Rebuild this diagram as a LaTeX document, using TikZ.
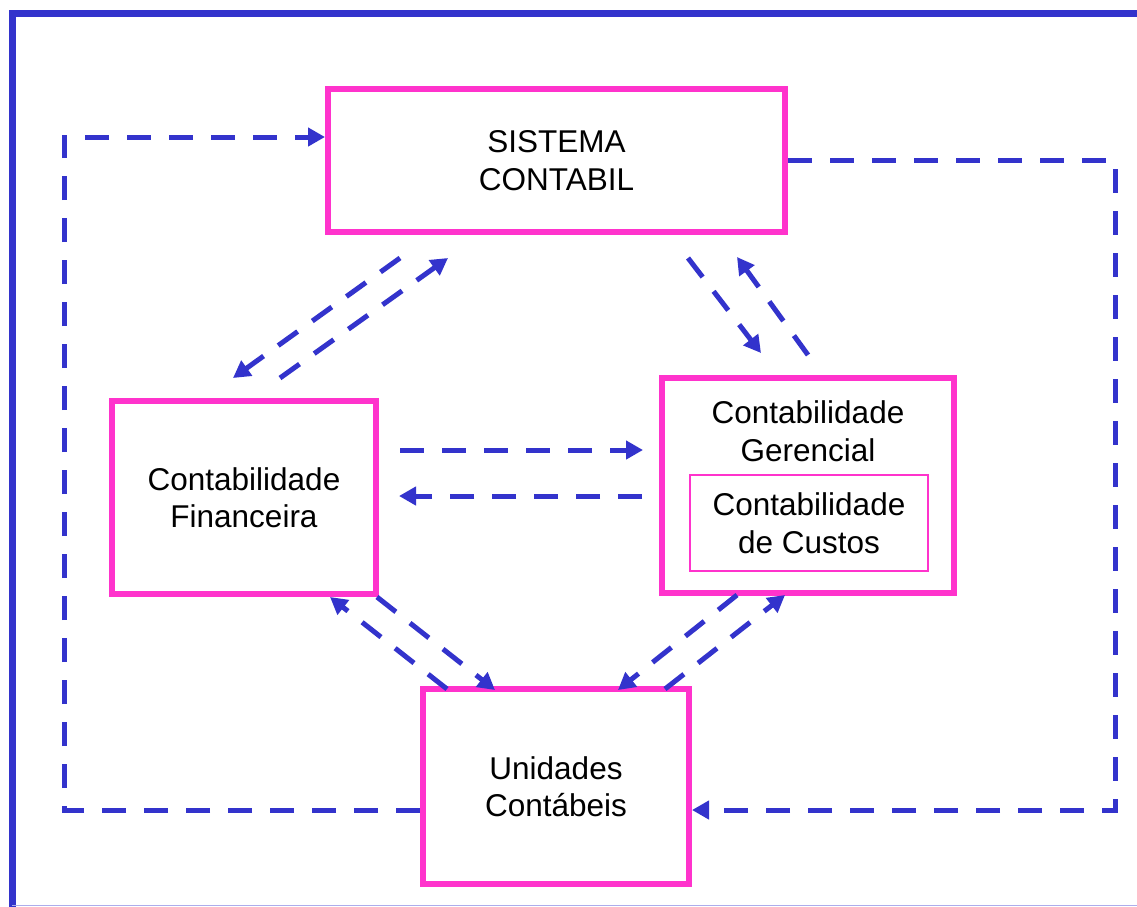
\documentclass[tikz,border=0pt]{standalone}
\usepackage{fontspec}
\setmainfont{Liberation Sans}
\usetikzlibrary{arrows.meta}
\definecolor{fblue}{HTML}{3333CC}
\definecolor{fpink}{HTML}{FF33CC}
\begin{document}
\begin{tikzpicture}[x=1pt,y=-1pt,
  box/.style={draw=fpink,line width=6pt,fill=white,rectangle,inner sep=0pt,align=center,
    font=\fontsize{31.5}{37.5}\selectfont},
  inbox/.style={draw=fpink,line width=1.3pt,rectangle,inner sep=0pt,align=center,
    font=\fontsize{31.5}{37.5}\selectfont},
  flow/.style={draw=fblue,line width=5pt,dash pattern=on 24pt off 18pt},
  arr/.style={flow,-{Triangle[length=17pt,width=18pt]}}]
\useasboundingbox (0,0) rectangle (1137,906);
\fill[white] (0,0) rectangle (1137,906);
\draw[fblue,line width=7pt] (12,920) -- (12,13) -- (1150,13);
\draw[fblue!40,line width=1pt] (12,905) -- (1150,905);

\node[box,minimum width=457pt,minimum height=143pt] (sis) at (556.5,160.5) {SISTEMA\\CONTABIL};
\node[box,minimum width=264pt,minimum height=193pt] (fin) at (244,497.5) {Contabilidade\\Financeira};
\node[box,minimum width=292pt,minimum height=215pt] (ger) at (808,485.5) {};
\node[font=\fontsize{31.5}{37.5}\selectfont,align=center] (gert) at (808,431) {Contabilidade\\Gerencial};
\node[inbox,minimum width=238pt,minimum height=96pt] (cus) at (809,523) {Contabilidade\\de Custos};
\node[box,minimum width=266pt,minimum height=195pt] (uni) at (556,786.5) {Unidades\\Contábeis};

% outer loops
\coordinate (l1) at (64,810);
\coordinate (l2) at (64,137);
\draw[arr] (uni.west |- 0,810) -- (l1) -- (l2) -- (sis.west |- 0,137);
\coordinate (r1) at (1115,160);
\coordinate (r2) at (1115,810);
\draw[arr] (sis.east |- 0,160) -- (r1) -- (r2) -- (uni.east |- 0,810);

% sis <-> fin
\coordinate (a1) at (400,258); \coordinate (a2) at (233,378);
\draw[arr] (a1) -- (a2);
\coordinate (a3) at (280,378); \coordinate (a4) at (448,258);
\draw[arr] (a3) -- (a4);
% sis <-> ger
\coordinate (b1) at (688,258); \coordinate (b2) at (761,353);
\draw[arr] (b1) -- (b2);
\coordinate (b3) at (808,355); \coordinate (b4) at (737,257);
\draw[arr] (b3) -- (b4);
% fin <-> ger
\coordinate (c1) at (400,450); \coordinate (c2) at (643,450);
\draw[arr] (c1) -- (c2);
\coordinate (c3) at (642,496); \coordinate (c4) at (399,496);
\draw[arr] (c3) -- (c4);
% fin <-> uni
\coordinate (d1) at (447,689); \coordinate (d2) at (330,597);
\draw[arr] (d1) -- (d2);
\coordinate (d3) at (377,597); \coordinate (d4) at (495,690);
\draw[arr] (d3) -- (d4);
% ger <-> uni
\coordinate (e1) at (737,595); \coordinate (e2) at (618,690);
\draw[arr] (e1) -- (e2);
\coordinate (e3) at (665,689); \coordinate (e4) at (785,595);
\draw[arr] (e3) -- (e4);
\end{tikzpicture}
\end{document}
